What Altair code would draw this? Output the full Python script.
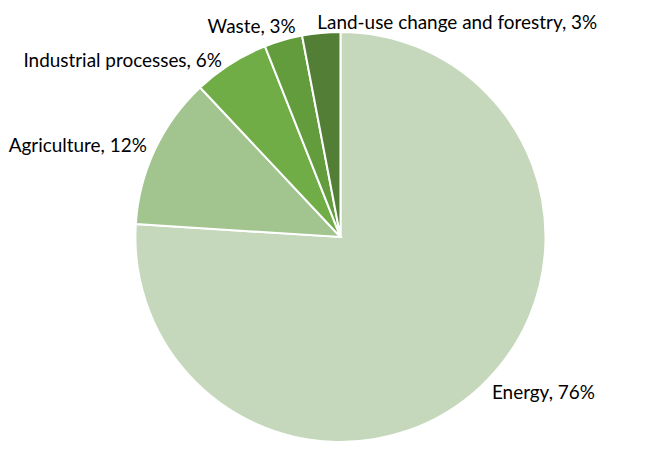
import altair as alt
import pandas as pd

categories = ["Energy", "Agriculture", "Industrial processes", "Waste", "Land-use change and forestry"]
shares = [76, 12, 6, 3, 3]
colors = ["#C5D8BB", "#A2C48F", "#70AD47", "#629C3C", "#527F35"]

df = pd.DataFrame({
    "category": categories,
    "share": shares,
    "order": list(range(len(categories))),
})
df["label"] = [f"{c}, {v}%" for c, v in zip(categories, shares)]

total = sum(shares)
CX, CY = 331, 229

base = alt.Chart(df)

pie = base.mark_arc(radius=206, stroke="white", strokeWidth=2).encode(
    theta=alt.Theta("share:Q", stack=True, scale=alt.Scale(domain=[0, total])),
    color=alt.Color("category:N", scale=alt.Scale(domain=categories, range=colors), legend=None),
    order=alt.Order("order:Q", sort="ascending"),
    x=alt.value(CX),
    y=alt.value(CY),
)

# label placement style: (align, dx, dy)
label_style = {
    "Energy": ("left", 5, 0),
    "Agriculture": ("right", 0, 0),
    "Industrial processes": ("right", -4, 5),
    "Waste": ("right", 15, -4),
    "Land-use change and forestry": ("left", -3, -1),
}

layers = [pie]
for cat in categories:
    align, dx, dy = label_style[cat]
    t = (
        base.transform_window(
            cum="sum(share)", sort=[alt.SortField("order", order="ascending")],
            frame=[None, 0]
        )
        .transform_calculate(mid="datum.cum - datum.share / 2")
        .transform_filter(alt.datum.category == cat)
        .mark_text(
            radius=215, align=align, baseline="middle", dx=dx, dy=dy,
            font="Lato", fontSize=19, color="#000000",
        )
        .encode(
            theta=alt.Theta("mid:Q", stack=None, scale=alt.Scale(domain=[0, total])),
            text="label:N",
            x=alt.value(CX),
            y=alt.value(CY),
        )
    )
    layers.append(t)

chart = (
    alt.layer(*layers)
    .properties(width=649, height=438, padding=0)
    .configure_view(stroke=None)
)

chart.save("out.html", embed_options={"renderer": "svg", "actions": False})
